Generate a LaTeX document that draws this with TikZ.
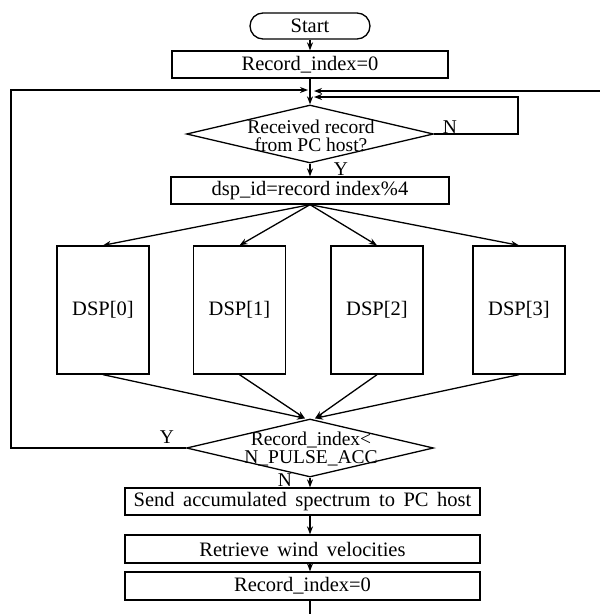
\documentclass[tikz,border=0pt]{standalone}
\usepackage{fontspec}
\setmainfont{Liberation Serif}
\usetikzlibrary{shapes.geometric,arrows.meta}
\begin{document}
\begin{tikzpicture}[x=1pt,y=-1pt,
  every node/.style={font=\fontsize{20.5}{18}\selectfont},
  line/.style={line width=1.3pt},
  arr/.style={line width=1.3pt,-{Stealth[length=8pt,width=6pt]}},
  procbox/.style={draw,line width=1.3pt,inner sep=0pt,minimum height=27pt},
  dspbox/.style={draw,line width=1.3pt,inner sep=0pt,minimum width=92pt,minimum height=128pt},
  decbox/.style={draw,diamond,line width=1.3pt,inner sep=0pt,minimum width=247pt,minimum height=58pt},
  dtext/.style={inner sep=0pt,align=center,font=\fontsize{19.5}{18}\selectfont},
  lbl/.style={inner sep=0pt,font=\fontsize{19.5}{18}\selectfont}]
\useasboundingbox (0,0) rectangle (600,614);
\node[procbox,rounded corners=13pt,minimum width=120pt,minimum height=26pt] (start) at (310,26) {Start};
\node[procbox,minimum width=276pt] (rec0) at (310,64.5) {Record\_index=0};
\node[decbox] (d1) at (310,134) {};
\node[dtext] (d1t) at (311,136) {Received record\\from PC host?};
\node[procbox,minimum width=278pt] (dsp) at (310,190.5) {dsp\_id=record index\%4};
\node[dspbox] (p0) at (103,310) {DSP[0]};
\node[dspbox] (p1) at (239.5,310) {DSP[1]};
\node[dspbox] (p2) at (377,310) {DSP[2]};
\node[dspbox] (p3) at (519,310) {DSP[3]};
\node[decbox] (d2) at (310,448) {};
\node[dtext] (d2t) at (311,449) {Record\_index<\\N\_PULSE\_ACC};
\node[procbox,minimum width=355pt] (send) at (302.5,501.5) {Send\ \,accumulated\ \,spectrum\ \,to\ \,PC\ \,host};
\node[procbox,minimum width=355pt,minimum height=28pt] (ret) at (302.5,549) {Retrieve\ \,wind\ \,velocities};
\node[procbox,minimum width=355pt,minimum height=28pt] (rec1) at (302.5,586) {Record\_index=0};
% labels
\node[lbl] (n1) at (450,127) {N};
\node[lbl] (y1) at (341,169) {Y};
\node[lbl] (y2) at (167,437) {Y};
\node[lbl] (n2) at (285,480) {N};
% coordinates
\coordinate (ax) at (310,0);
\coordinate (lt) at (11,90);
\coordinate (lb) at (11,448);
\coordinate (re) at (600,91);
\coordinate (nr) at (518,134);
\coordinate (nt) at (518,97);
\coordinate (bot) at (310,614);
% connectors
\draw[arr] (start) -- (rec0);
\draw[arr] (rec0) -- (d1.north);
\draw[arr] (d1.south) -- (dsp.north);
\draw[arr] (dsp.south) -- (p0.north);
\draw[arr] (dsp.south) -- (p1.north);
\draw[arr] (dsp.south) -- (p2.north);
\draw[arr] (dsp.south) -- (p3.north);
\draw[arr] (p0.south) -- ([xshift=-5pt]d2.north);
\draw[arr] (p1.south) -- ([xshift=-5pt]d2.north);
\draw[arr] (p2.south) -- ([xshift=5pt]d2.north);
\draw[arr] (p3.south) -- ([xshift=5pt]d2.north);
\draw[arr] (d2.west) -- (lb) -- (lt) -- ([xshift=-2pt]lt -| ax);
\draw[arr] (re) -- ([xshift=4pt]re -| ax);
\draw[arr] (d1.east) -- (nr) -- (nt) -- ([xshift=4pt]nt -| ax);
\draw[arr] (d2.south) -- (send.north -| ax);
\draw[arr] (send.south -| ax) -- (ret.north -| ax);
\draw[arr] (ret.south -| ax) -- (rec1.north -| ax);
\draw[line] (rec1.south -| ax) -- (bot);
\end{tikzpicture}
\end{document}
